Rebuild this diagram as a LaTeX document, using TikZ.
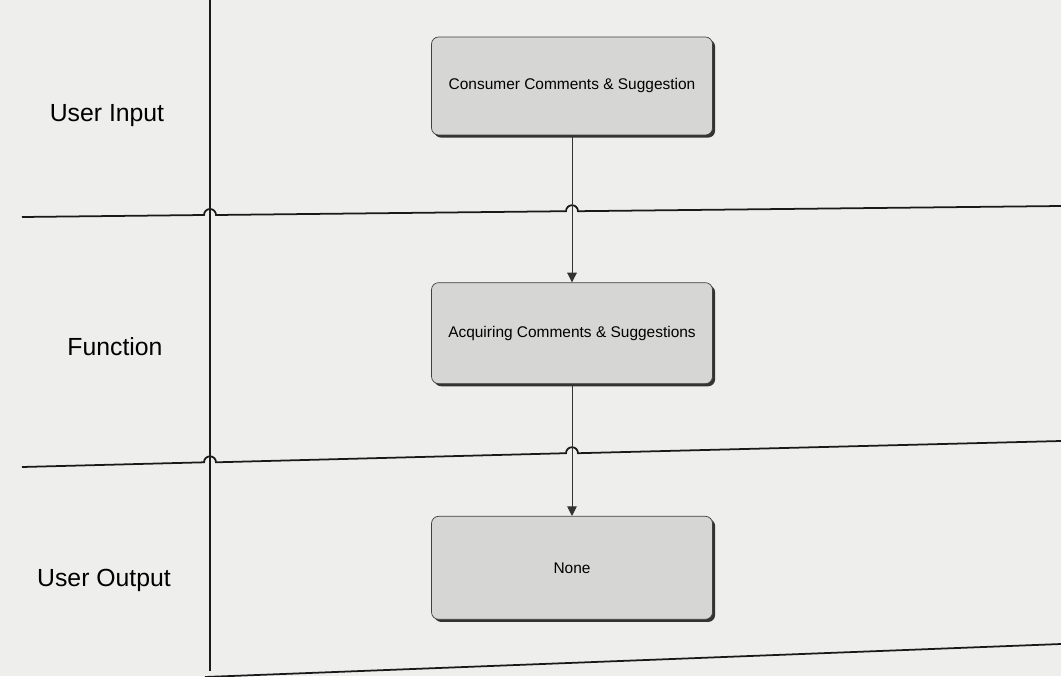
\documentclass[tikz,border=0pt]{standalone}
\usepackage{fontspec}
\setmainfont{Liberation Sans}
\usetikzlibrary{shadows,arrows.meta,positioning}
\definecolor{paper}{RGB}{238,238,236}
\definecolor{boxgray}{RGB}{214,214,212}

\begin{document}
\begin{tikzpicture}[x=0.02cm, y=0.02cm,
    lane/.style={draw=black!90, line width=1pt},
    hop/.style={start angle=180, end angle=0, radius=0.12cm},
    lanelabel/.style={font=\fontsize{14.1}{17}\selectfont},
    stage/.style={
      rectangle, rounded corners=4pt, draw=black!75, fill=boxgray,
      minimum width=5.62cm, minimum height=1.96cm,
      font=\fontsize{8.8}{10}\selectfont,
      drop shadow={shadow xshift=1.5pt, shadow yshift=-1.5pt, fill=black!80, opacity=1}
    },
    flow/.style={draw=black!80, line width=0.5pt, -{Triangle[width=5.5pt,length=5.5pt]}}
  ]
    \fill[paper] (0,0) rectangle (1061,-676);
    \useasboundingbox (0,0) rectangle (1061,-676);

    % swimlane labels
    \node[lanelabel] (inp) at (107,-116) {User Input};
    \node[lanelabel] (fun) at (115,-347) {Function};
    \node[lanelabel] (outp) at (104,-580) {User Output};

    % lane borders, hopping over the vertical lines
    \draw[lane] (210,0) -- (210,-671);
    \draw[lane] (22,-217) -- (204,-215) arc[hop] -- (566,-211.2) arc[hop] -- (1061,-206);
    \draw[lane] (22,-467) -- (204,-462.3) arc[hop] -- (566,-453.2) arc[hop] -- (1061,-441);
    \draw[lane] (205,-677) -- (1061,-644);

    % steps
    \node[stage] (cmt) at (572,-86) {Consumer Comments \& Suggestion};
    \node[stage, below=2.94cm of cmt, minimum height=2.02cm] (acq) {Acquiring Comments \& Suggestions};
    \node[stage, below=2.64cm of acq, minimum height=2.06cm] (none) {None};

    \draw[flow] (cmt) -- (acq);
    \draw[flow] (acq) -- (none);
  \end{tikzpicture}
\end{document}
